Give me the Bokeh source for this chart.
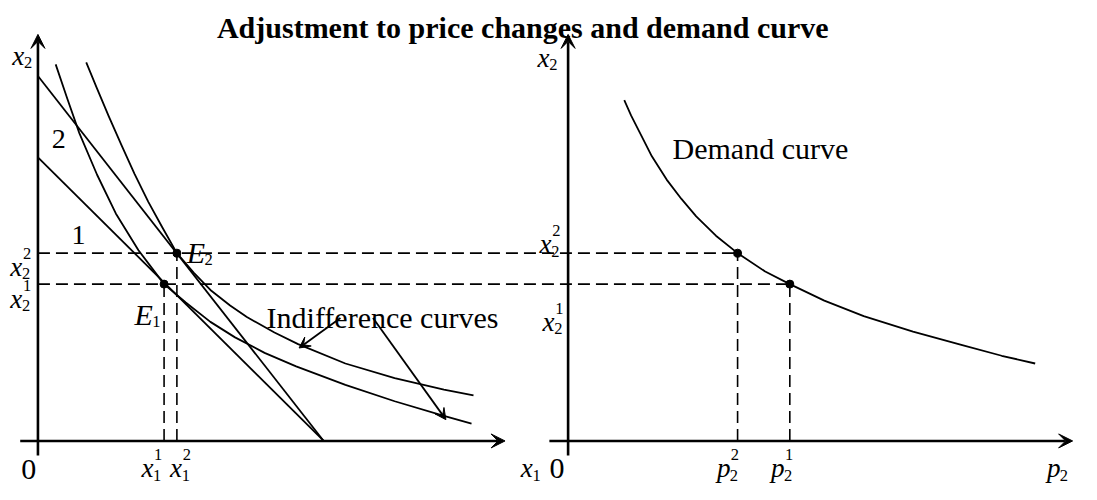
from bokeh.plotting import figure
from bokeh.models import Range1d, Arrow, VeeHead
from bokeh.core.properties import value
from bokeh.embed import file_html
from bokeh.resources import INLINE

# ---------------- data (schematic units) ----------------
# Left panel: goods space, x1 horizontal, x2 vertical
budget_x1_intercept = [290, 290]          # budget line 1, budget line 2
budget_x2_intercept = [293, 377]
ic1_x1 = [18, 30, 42, 60, 79, 102, 128, 150, 175, 200, 230, 262, 312, 362, 412, 440]
ic1_x2 = [389, 353, 318, 275, 235, 197, 162, 143, 123, 107, 91, 77, 58, 41, 26, 18]
ic2_x1 = [49, 60, 72, 85, 98, 112, 126, 141, 158, 175, 195, 212, 240, 264, 312, 362, 412, 442]
ic2_x2 = [391, 364, 335, 305, 276, 247, 221, 194, 174, 156, 140, 128, 112, 100, 80, 65, 53, 47]
eq_x1 = [128, 141]                        # E1, E2
eq_x2 = [162, 194]
# Right panel: demand curve (price p2 horizontal, quantity x2 vertical)
demand_p2 = [57, 64, 72, 85, 100, 115, 130, 150, 172, 200, 225, 260, 300, 350, 400, 440, 474]
demand_x2 = [352, 336, 320, 294, 270, 250, 232, 212, 194, 175, 162, 145, 129, 113, 99, 88, 80]
price_p2 = [225, 172]                     # p2^1, p2^2
title = "Adjustment to price changes and demand curve"

# ---------------- layout constants ----------------
W, H = 1081, 484
SX, SY = W / 1097, H / 500
RIGHT_X0 = 538          # horizontal distance between the two panel origins
FONT = "Liberation Serif"
BLACK = "black"

p = figure(width=W, height=H, x_range=Range1d(-38, 1059), y_range=Range1d(-45, 455),
           output_backend="svg", toolbar_location=None, min_border=0,
           x_axis_type=None, y_axis_type=None)
p.grid.visible = False
p.outline_line_color = None
p.background_fill_color = "white"

def txt(x, y, s, size=28, style="normal", align="left", xo=0, yo=0):
    p.text(x=[x], y=[y], text=[s], x_offset=xo * SX, y_offset=yo * SY,
           text_font=value(FONT), text_font_style=style,
           text_font_size=f"{size * SY:.1f}px",
           text_align=align, text_baseline="alphabetic", text_color=BLACK)

def sym(x, y, base, sup=None, sub=None, xo=0, yo=0, size=28, small=17, w=None):
    txt(x, y, base, size=size, style="italic", xo=xo, yo=yo)
    if w is None:
        w = 0.46 * size
    if sup:
        txt(x, y, sup, size=small, xo=xo + w, yo=yo - 0.5 * size)
    if sub:
        txt(x, y, sub, size=small, xo=xo + w - 1, yo=yo + 0.26 * size)

def arrow(x0, y0, x1, y1, lw, size):
    p.add_layout(Arrow(end=VeeHead(size=size, fill_color=BLACK, line_color=BLACK, line_width=1),
                       x_start=x0, y_start=y0, x_end=x1, y_end=y1,
                       line_color=BLACK, line_width=lw))

# ---------------- axes ----------------
arrow(0, -15, 0, 420, 2.6, 14)
arrow(-18, 0, 474, 0, 2.6, 14)
arrow(RIGHT_X0, -15, RIGHT_X0, 420, 2.6, 14)
arrow(RIGHT_X0 - 19, 0, RIGHT_X0 + 512, 0, 2.6, 14)

# ---------------- left panel ----------------
p.segment(x0=[0, 0], y0=budget_x2_intercept, x1=budget_x1_intercept, y1=[0, 0],
          line_color=BLACK, line_width=1.8)
p.line(ic1_x1, ic1_x2, line_color=BLACK, line_width=1.8, line_join="round")
p.line(ic2_x1, ic2_x2, line_color=BLACK, line_width=1.8, line_join="round")

# dashed guides
dash = "12 6"
p.segment(x0=[0, 0], y0=eq_x2, x1=[RIGHT_X0 + price_p2[0], RIGHT_X0 + price_p2[1]], y1=eq_x2,
          line_color=BLACK, line_width=1.6, line_dash=dash)
p.segment(x0=eq_x1, y0=[0, 0], x1=eq_x1, y1=eq_x2, line_color=BLACK, line_width=1.6, line_dash=dash)
p.segment(x0=[RIGHT_X0 + v for v in price_p2], y0=[0, 0],
          x1=[RIGHT_X0 + v for v in price_p2], y1=eq_x2,
          line_color=BLACK, line_width=1.6, line_dash=dash)

p.scatter(eq_x1, eq_x2, size=8, color=BLACK)

# ---------------- right panel ----------------
p.line([RIGHT_X0 + v for v in demand_p2], demand_x2, line_color=BLACK, line_width=1.8,
       line_join="round")
p.scatter([RIGHT_X0 + v for v in price_p2], eq_x2, size=8, color=BLACK)

# annotation arrows to indifference curves
arrow(307, 127, 265, 96, 1.8, 11)
arrow(340, 127, 414, 22, 1.8, 11)

# ---------------- texts ----------------
txt(492, 427, title, size=31, style="bold", align="center")
txt(232, 128, "Indifference curves", size=31)
txt(644, 302, "Demand curve", size=31)
txt(14, 312, "2", size=29)
txt(34, 213, "1", size=29)
txt(0, 0, "0", size=31, xo=-17, yo=29)
txt(RIGHT_X0, 0, "0", size=31, xo=-19, yo=28)

# axis names
sym(0, 420, "x", sub="2", xo=-26, yo=22)
sym(474, 0, "x", sub="1", xo=16, yo=28)
sym(RIGHT_X0, 420, "x", sub="2", xo=-31, yo=24)
sym(RIGHT_X0 + 512, 0, "p", sub="2", xo=-26, yo=28, w=14)

# tick-like labels on the left panel
sym(0, eq_x2[1], "x", sup="2", sub="2", xo=-28, yo=14)
sym(0, eq_x2[0], "x", sup="1", sub="2", xo=-28, yo=15)
sym(eq_x1[0], 0, "x", sup="1", sub="1", xo=-23, yo=28)
sym(eq_x1[1], 0, "x", sup="2", sub="1", xo=-7, yo=28)
sym(eq_x1[0], eq_x2[0], "E", sub="1", xo=-30, yo=31, size=31, w=19)
sym(eq_x1[1], eq_x2[1], "E", sub="2", xo=10, yo=-1, size=31, w=19)

# tick-like labels on the right panel
sym(RIGHT_X0, eq_x2[1], "x", sup="2", sub="2", xo=-29, yo=-9)
sym(RIGHT_X0, eq_x2[0], "x", sup="1", sub="2", xo=-26, yo=39)
sym(RIGHT_X0 + price_p2[1], 0, "p", sup="2", sub="2", xo=-21, yo=28, w=14)
sym(RIGHT_X0 + price_p2[0], 0, "p", sup="1", sub="2", xo=-19, yo=28, w=14)

open("out.html", "w").write(file_html(p, INLINE))
